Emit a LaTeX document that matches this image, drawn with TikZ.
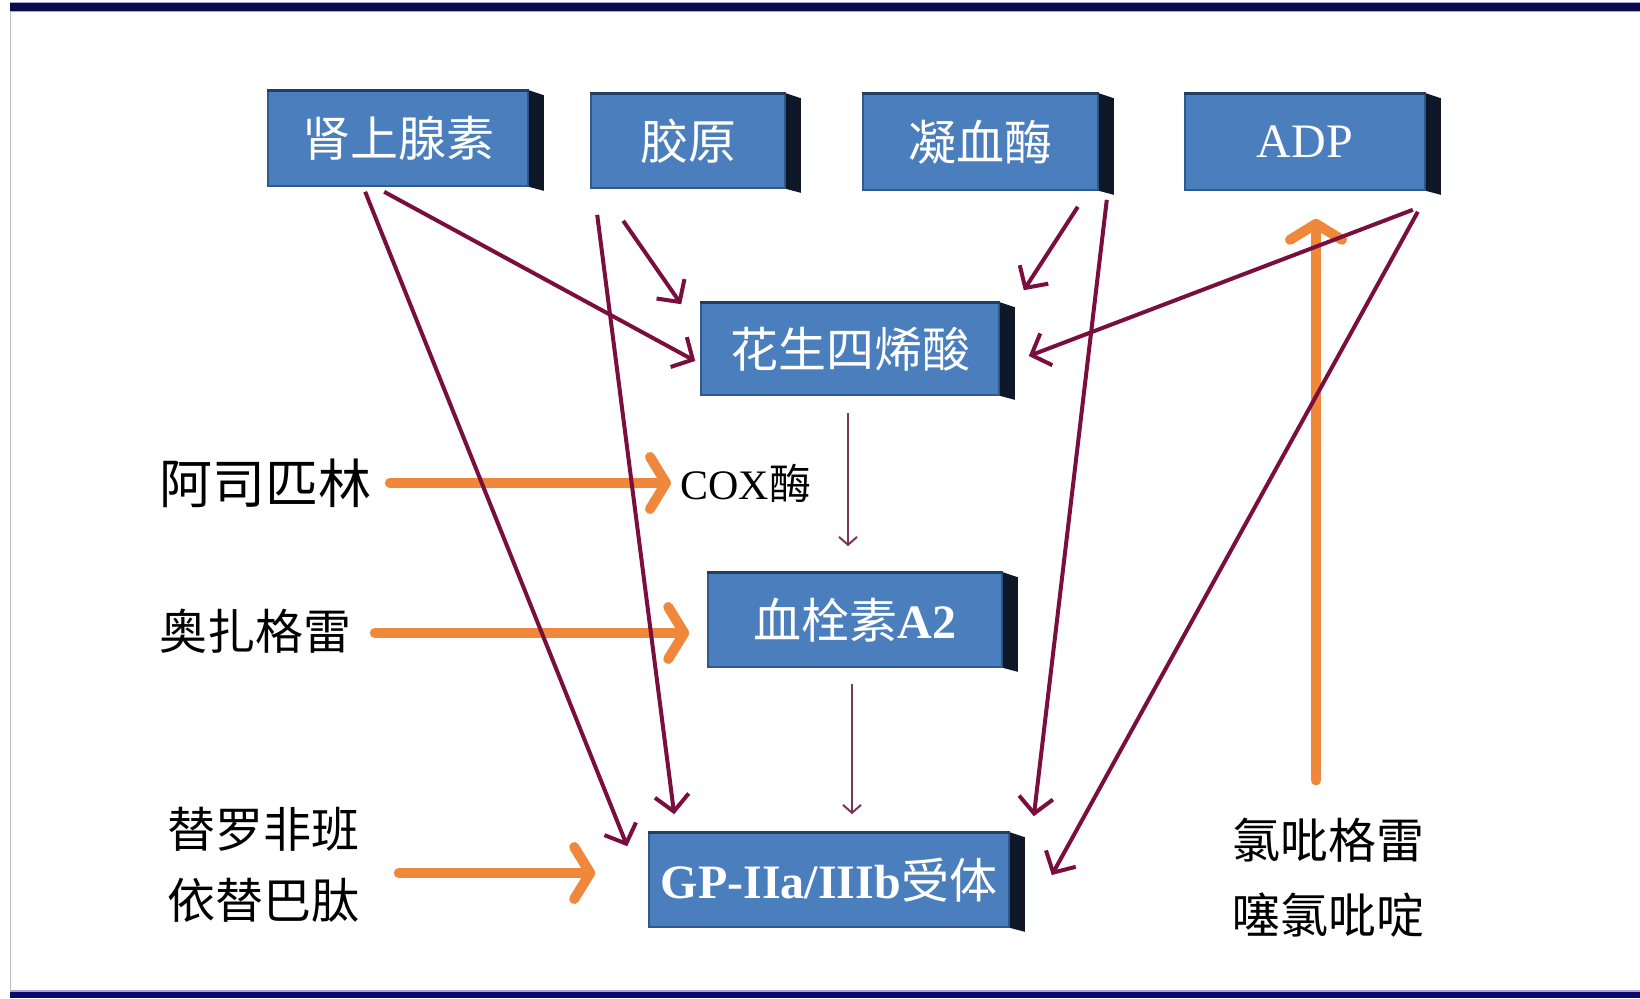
\documentclass[tikz,border=0pt]{standalone}
\usepackage{fontspec}
\setmainfont{Liberation Serif}
\newfontfamily\cjk{Noto Sans CJK SC}
\usetikzlibrary{arrows.meta,calc}
\definecolor{boxblue}{HTML}{4B7EBD}
\definecolor{boxedge}{HTML}{2E5A8E}
\definecolor{boxside}{HTML}{0E1828}
\definecolor{arrowred}{HTML}{7A0E3E}
\definecolor{thinred}{HTML}{7A3658}
\definecolor{orangec}{HTML}{F0883C}
\definecolor{navytop}{HTML}{0B0A4A}
\definecolor{navybot}{HTML}{0A0A6A}
\definecolor{lavender}{HTML}{A4A4D6}
\newcommand\drawside[1]{%
  \fill[boxside] (#1.north east) -- ++(15,5) -- ([shift={(15,4)}]#1.south east) -- (#1.south east) -- cycle;
  \draw[boxedge!70!black, line width=1.5pt] (#1.north west) -- (#1.north east);
  \draw[boxedge, line width=1.2pt] ([shift={(2,-1)}]#1.south west) -- ([shift={(0,-1)}]#1.south east);
}
\tikzset{
  box/.style={rectangle, fill=boxblue, draw=boxedge, line width=0.8pt, inner sep=0pt,
    text=white, font=\cjk\fontsize{24pt}{28pt}\selectfont},
  txt/.style={inner sep=0pt, text=black, font=\cjk\fontsize{24pt}{28pt}\selectfont},
  redarrow/.style={draw=arrowred, line width=2pt, -{Straight Barb[length=8pt,width=17pt]}},
  thinarrow/.style={draw=thinred, line width=1pt, -{Straight Barb[length=4pt,width=9pt]}},
  orangearrow/.style={draw=orangec, line width=5pt, line cap=round, -{Straight Barb[length=8pt,width=26pt,round]}},
}
\begin{document}
\begin{tikzpicture}[x=0.5pt,y=-0.5pt]
\useasboundingbox (0,0) rectangle (1640,998);
\fill[white] (0,0) rectangle (1640,998);
% frame
\fill[navytop] (10,3) rectangle (1640,11);
\draw[lavender, line width=0.8pt] (10,2.5) -- (1640,2.5) (10,11.5) -- (1640,11.5);
\fill[navybot] (10,992) rectangle (1640,998);
\draw[lavender, line width=0.8pt] (10,991) -- (1640,991);
\draw[black!25, line width=0.6pt] (10.5,11) -- (10.5,992);
% boxes
\node[box, minimum width=130pt, minimum height=47.5pt] (n1) at (398,138.5) {肾上腺素};
\node[box, minimum width=97pt, minimum height=47pt] (n2) at (688,141) {胶原};
\node[box, minimum width=117.5pt, minimum height=48pt] (n3) at (980.5,142) {凝血酶};
\node[box, minimum width=120pt, minimum height=48pt] (n4) at (1305,142) {{\rmfamily ADP}};
\node[box, minimum width=149pt, minimum height=46pt] (n5) at (850,349) {花生四烯酸};
\node[box, minimum width=147pt, minimum height=47pt] (n6) at (855,620) {血栓素{\rmfamily\bfseries A2}};
\node[box, minimum width=180pt, minimum height=47pt] (n7) at (829,880) {{\rmfamily\bfseries GP-IIa/IIIb}受体};
\drawside{n1}\drawside{n2}\drawside{n3}\drawside{n4}\drawside{n5}\drawside{n6}\drawside{n7}
% side labels
\node[txt, anchor=west, font=\cjk\fontsize{26.5pt}{30pt}\selectfont] (asp) at (159,483) {阿司匹林};
\node[txt, anchor=west, font=\cjk\fontsize{21pt}{25pt}\selectfont] (cox) at (680,483) {{\rmfamily COX}酶};
\node[txt, anchor=west] (oza) at (159,631) {奥扎格雷};
\node[txt, anchor=west] (tiro) at (167,829) {替罗非班};
\node[txt, anchor=west] (epti) at (167,900) {依替巴肽};
\node[txt] (clop) at (1328,840) {氯吡格雷};
\node[txt] (ticl) at (1328,915) {噻氯吡啶};
% orange arrows
\draw[orangearrow] ([shift={(18,0)}]asp.east) -- ([shift={(-9,0)}]cox.west);
\draw[orangearrow] ([shift={(23,2)}]oza.east) -- ([shift={(-18,13)}]n6.west);
\draw[orangearrow] ([shift={(39,44)}]tiro.east) -- ([shift={(-53,-7)}]n7.west);
\draw[orangearrow] ([shift={(-12,-37)}]clop.north) -- ([shift={(11,28)}]n4.south);
% maroon arrows
\draw[redarrow] ([shift={(117,5)}]n1.south west) -- ([shift={(-5,12)}]n5.west);
\draw[redarrow] ([shift={(98,5)}]n1.south west) -- ([shift={(-21,14)}]n7.north west);
\draw[redarrow] ([shift={(33,32)}]n2.south west) -- ([shift={(-19,2)}]n5.north west);
\draw[redarrow] ([shift={(7,26)}]n2.south west) -- ([shift={(26,-18)}]n7.north west);
\draw[redarrow] ([shift={(-21,16)}]n3.south east) -- ([shift={(24,-12)}]n5.north east);
\draw[redarrow] ([shift={(8,9)}]n3.south east) -- ([shift={(24,-16)}]n7.north east);
\draw[redarrow] ([shift={(-13,19)}]n4.south east) -- ([shift={(29,7)}]n5.east);
\draw[redarrow] ([shift={(-8,21)}]n4.south east) -- ([shift={(42,-5)}]n7.east);
% thin arrows
\draw[thinarrow] ([shift={(-2,17)}]n5.south) -- ([shift={(-7,-26)}]n6.north);
\draw[thinarrow] ([shift={(-3,16)}]n6.south) -- ([shift={(23,-18)}]n7.north);
\end{tikzpicture}
\end{document}
